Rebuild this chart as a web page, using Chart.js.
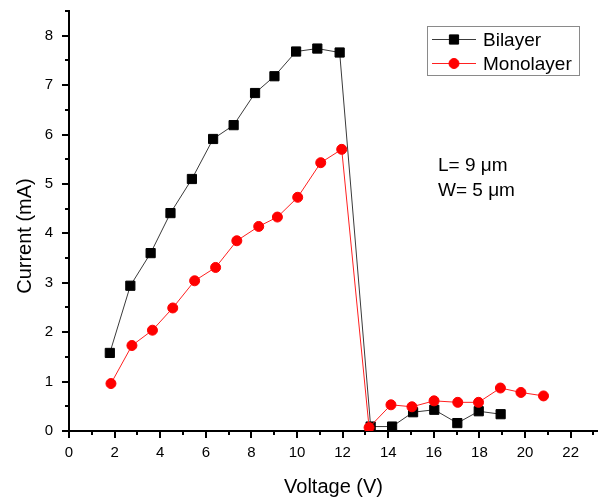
<!DOCTYPE html>
<html>
<head>
<meta charset="utf-8">
<script src="https://cdn.jsdelivr.net/npm/chart.js@4/dist/chart.umd.min.js"></script>
<style>
  html, body { margin: 0; padding: 0; background: #fff; }
  #wrap { width: 598px; height: 501px; position: relative; }
</style>
</head>
<body>
<div id="wrap"><canvas id="chart" width="598" height="501"></canvas></div>
<script>
// Values
const bilayerV = [1.79, 2.69, 3.58, 4.45, 5.39, 6.32, 7.22, 8.16, 9.01, 9.96, 10.89, 11.87, 13.23, 14.17, 15.09, 16.02, 17.03, 17.97, 18.93];
const bilayerI = [1.58, 2.94, 3.60, 4.41, 5.10, 5.91, 6.19, 6.84, 7.18, 7.68, 7.74, 7.66, 0.09, 0.09, 0.38, 0.43, 0.16, 0.40, 0.34];

const monoV = [1.84, 2.76, 3.66, 4.55, 5.51, 6.43, 7.36, 8.32, 9.14, 10.03, 11.04, 11.96, 13.16, 14.12, 15.04, 16.01, 17.05, 17.96, 18.92, 19.82, 20.81];
const monoI = [0.96, 1.73, 2.04, 2.49, 3.04, 3.31, 3.85, 4.14, 4.33, 4.73, 5.43, 5.70, 0.07, 0.53, 0.49, 0.61, 0.58, 0.58, 0.87, 0.78, 0.71];

const xTicks = [0, 2, 4, 6, 8, 10, 12, 14, 16, 18, 20, 22];
const yTicks = [0, 1, 2, 3, 4, 5, 6, 7, 8];
const seriesNames = ['Bilayer', 'Monolayer'];
const noteLines = ['L= 9 \u03bcm', 'W= 5 \u03bcm'];

const FONT = "'Liberation Sans', Arial, sans-serif";

const toPoints = (xs, ys) => xs.map((v, i) => ({ x: v, y: ys[i] }));

// minor/major ticks, axis titles, legend box and note text
const decor = {
  id: 'decor',
  afterDraw(chart) {
    const { ctx, scales: { x, y }, chartArea: ca } = chart;
    ctx.save();
    ctx.strokeStyle = '#000';
    ctx.lineWidth = 2;
    ctx.beginPath();
    for (let k = 0; k <= 23; k++) {
      const px = Math.round(x.getPixelForValue(k));
      const len = k % 2 === 0 ? 7 : 4;
      ctx.moveTo(px, ca.bottom);
      ctx.lineTo(px, ca.bottom + len);
    }
    for (let k = 0; k <= 17; k++) {
      const py = Math.round(y.getPixelForValue(k / 2));
      const len = k % 2 === 0 ? 7 : 4;
      ctx.moveTo(ca.left, py);
      ctx.lineTo(ca.left - len, py);
    }
    ctx.stroke();

    // axis titles
    ctx.fillStyle = '#000';
    ctx.font = '20px ' + FONT;
    ctx.textAlign = 'center';
    ctx.textBaseline = 'middle';
    ctx.fillText('Voltage (V)', x.getPixelForValue(11.6), 487);
    ctx.save();
    ctx.translate(25, 236);
    ctx.rotate(-Math.PI / 2);
    ctx.fillText('Current (mA)', 0, 0);
    ctx.restore();

    // legend
    ctx.strokeStyle = '#8a8a8a';
    ctx.lineWidth = 1;
    ctx.strokeRect(427.5, 26.5, 152, 49);
    ctx.font = '19px ' + FONT;
    ctx.textAlign = 'left';
    ctx.textBaseline = 'alphabetic';
    const rows = [39, 63];
    chart.data.datasets.forEach(ds => {
      const idx = seriesNames.indexOf(ds.label);
      const ly = rows[idx];
      ctx.strokeStyle = ds.borderColor;
      ctx.lineWidth = 1;
      ctx.beginPath();
      ctx.moveTo(432, ly + 0.5);
      ctx.lineTo(476, ly + 0.5);
      ctx.stroke();
      ctx.fillStyle = ds.pointBackgroundColor;
      ctx.strokeStyle = ds.pointBorderColor;
      Chart.helpers.drawPoint(ctx, { pointStyle: ds.pointStyle, radius: ds.pointRadius, rotation: 0, borderWidth: 1 }, 454, ly + 0.5);
      ctx.fillStyle = '#000';
      ctx.fillText(ds.label, 483, ly + 7);
    });

    // note
    ctx.fillText(noteLines[0], 438, 171);
    ctx.fillText(noteLines[1], 438, 196);
    ctx.restore();
  }
};

new Chart(document.getElementById('chart'), {
  type: 'scatter',
  data: {
    datasets: [
      {
        label: seriesNames[1],
        data: toPoints(monoV, monoI),
        showLine: true,
        borderColor: '#ff2020',
        borderWidth: 1,
        pointStyle: 'circle',
        pointRadius: 5,
        pointBackgroundColor: '#ff0000',
        pointBorderColor: '#ff0000',
        pointBorderWidth: 1
      },
      {
        label: seriesNames[0],
        data: toPoints(bilayerV, bilayerI),
        showLine: true,
        borderColor: '#3a3a3a',
        borderWidth: 1,
        pointStyle: 'rect',
        pointRadius: 6.5,
        pointBackgroundColor: '#000',
        pointBorderColor: '#000',
        pointBorderWidth: 1
      }
    ]
  },
  options: {
    responsive: false,
    animation: false,
    layout: { autoPadding: false, padding: { top: 11, right: 0, left: 0, bottom: 0 } },
    plugins: {
      legend: { display: false },
      tooltip: { enabled: false }
    },
    scales: {
      x: {
        type: 'linear',
        min: 0,
        max: 23.2,
        afterBuildTicks: s => { s.ticks = xTicks.map(v => ({ value: v })); },
        afterFit: s => { s.height = 70; s.paddingLeft = 0; s.paddingRight = 0; },
        grid: { display: false, drawTicks: false },
        border: { display: true, color: '#000', width: 2 },
        ticks: { color: '#000', font: { family: FONT, size: 15 }, padding: 13, maxRotation: 0 }
      },
      y: {
        type: 'linear',
        min: 0,
        max: 8.5,
        afterBuildTicks: s => { s.ticks = yTicks.map(v => ({ value: v })); },
        afterFit: s => { s.width = 69; s.paddingTop = 0; s.paddingBottom = 0; },
        grid: { display: false, drawTicks: false },
        border: { display: true, color: '#000', width: 2 },
        ticks: { color: '#000', font: { family: FONT, size: 15 }, padding: 16 }
      }
    }
  },
  plugins: [decor]
});
</script>
</body>
</html>
